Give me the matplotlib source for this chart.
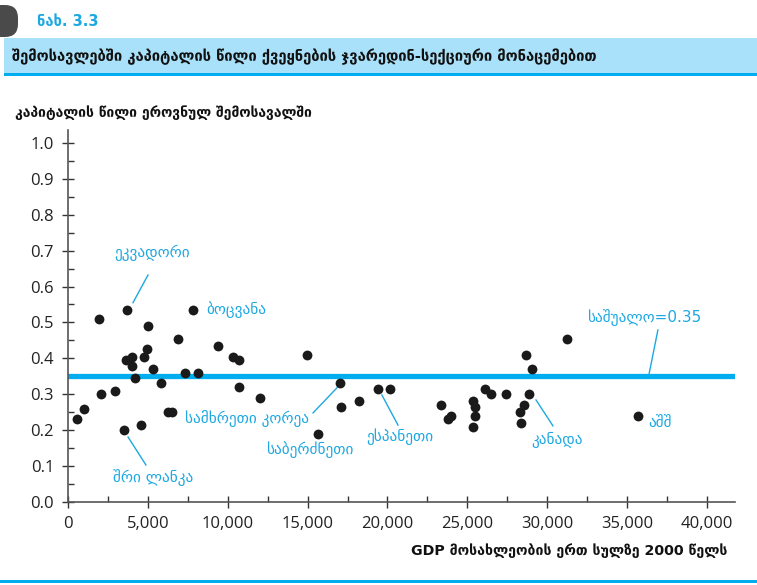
import matplotlib
matplotlib.use("Agg")
import matplotlib.pyplot as plt
from matplotlib.patches import Rectangle, FancyBboxPatch
from matplotlib.ticker import MultipleLocator, FuncFormatter

# GDP per capita (2000) and capital share of income
gdp = [540, 1000, 2050, 2940, 1960, 3710, 7840, 5030, 6900, 4960,
       4780, 3630, 3990, 3990, 5300, 7320, 8120, 4190, 5820, 3520,
       4550, 6280, 6490, 9410, 10310, 10700, 14980, 10700, 12020, 17030,
       17090, 18240, 15670, 19390, 20160, 23350, 23980, 23810, 25370, 25480,
       25480, 25370, 26100, 26460, 27420, 28650, 29030, 28880, 28540, 28290,
       28340, 31260, 35700]
share = [0.23, 0.26, 0.30, 0.31, 0.51, 0.535, 0.535, 0.49, 0.455, 0.425,
         0.405, 0.395, 0.405, 0.38, 0.37, 0.36, 0.36, 0.345, 0.33, 0.20,
         0.215, 0.25, 0.25, 0.435, 0.405, 0.395, 0.41, 0.32, 0.29, 0.33,
         0.265, 0.28, 0.19, 0.315, 0.315, 0.27, 0.24, 0.23, 0.28, 0.265,
         0.24, 0.21, 0.315, 0.30, 0.30, 0.41, 0.37, 0.30, 0.27, 0.25,
         0.22, 0.455, 0.24]
mean_share = 0.35

# labels: (text, text x, text y, ha, leader line start, leader line end)
labels = [
    ("ეკვადორი", 5250, 0.695, "center", (4070, 0.555), (5010, 0.632)),
    ("ბოცვანა", 8650, 0.535, "left", None, None),
    ("სამხრეთი კორეა", 11200, 0.232, "center", (15340, 0.248), (16840, 0.318)),
    ("საბერძნეთი", 15150, 0.147, "center", None, None),
    ("ესპანეთი", 20800, 0.183, "center", (19650, 0.298), (20660, 0.214)),
    ("კანადა", 30650, 0.172, "center", (29300, 0.284), (30360, 0.212)),
    ("აშშ", 36350, 0.222, "left", None, None),
    ("საშუალო=0.35", 36050, 0.513, "center", (36930, 0.479), (36370, 0.355)),
    ("შრი ლანკა", 5300, 0.068, "center", (3760, 0.181), (4880, 0.103)),
]

BLUE = "#00AEEF"
LABEL_BLUE = "#1DA8E2"
GEO = ["DejaVu Sans"]
NUM = ["Open Sans", "DejaVu Sans"]

plt.rcParams.update({"font.family": GEO, "figure.facecolor": "white"})

fig = plt.figure(figsize=(7.57, 5.85), dpi=100)

# page decoration in pixel coordinates
bg = fig.add_axes([0, 0, 1, 1], zorder=0)
bg.set_xlim(0, 757)
bg.set_ylim(585, 0)
bg.axis("off")
bg.add_patch(Rectangle((4, 38), 753, 36, color="#A8E1F9", lw=0))
bg.add_patch(Rectangle((4, 73), 753, 3, color=BLUE, lw=0))
bg.add_patch(Rectangle((0, 580), 757, 2.5, color=BLUE, lw=0))
bg.add_patch(FancyBboxPatch((-12, 5), 30, 32, boxstyle="round,pad=0,rounding_size=13",
                            color="#4A4A4A", lw=0))
bg.text(37, 21, "ნახ. 3.3", fontsize=10.5, fontweight="bold", color=LABEL_BLUE,
        ha="left", va="center")
bg.text(12, 57, "შემოსავლებში კაპიტალის წილი ქვეყნების ჯვარედინ-სექციური მონაცემებით",
        fontsize=10.6, fontweight="bold", color="#111111", ha="left", va="center")
bg.text(15, 113, "კაპიტალის წილი ეროვნულ შემოსავალში", fontsize=10,
        fontweight="bold", color="#111111", ha="left", va="center")
bg.text(727, 551, "GDP მოსახლეობის ერთ სულზე 2000 წელს", fontsize=10.2,
        fontweight="bold", color="#111111", ha="right", va="center")

ax = fig.add_axes([0.0898, 0.1419, 0.881, 0.636], zorder=1)
ax.patch.set_alpha(0)
ax.scatter(gdp, share, s=50, color="#1A1A1A", zorder=3, linewidths=0)
ax.axhline(mean_share, color=BLUE, linewidth=3.8, zorder=2)

for text, tx, ty, ha, p0, p1 in labels:
    ax.text(tx, ty, text, fontsize=11, color=LABEL_BLUE, ha=ha, va="center")
    if p0 is not None:
        ax.plot([p0[0], p1[0]], [p0[1], p1[1]], color=LABEL_BLUE, linewidth=1)

ax.set_xlim(0, 41750)
ax.set_ylim(0, 1.036)
for s in ["top", "right"]:
    ax.spines[s].set_visible(False)
for s in ["left", "bottom"]:
    ax.spines[s].set_color("#555555")
    ax.spines[s].set_linewidth(1.2)

ax.xaxis.set_major_locator(MultipleLocator(5000))
ax.xaxis.set_minor_locator(MultipleLocator(2500))
ax.yaxis.set_major_locator(MultipleLocator(0.1))
ax.yaxis.set_minor_locator(MultipleLocator(0.05))
ax.xaxis.set_major_formatter(FuncFormatter(lambda v, p: f"{int(v):,}"))
ax.yaxis.set_major_formatter(FuncFormatter(lambda v, p: f"{v:.1f}"))
ax.tick_params(which="major", direction="inout", length=8, width=1, color="#333333",
               labelsize=12, labelcolor="#222222", pad=6)
ax.tick_params(which="minor", direction="in", length=4, width=1, color="#333333")
for lab in ax.get_xticklabels() + ax.get_yticklabels():
    lab.set_family(NUM)

fig.savefig("out.png", dpi=100, facecolor="white")
